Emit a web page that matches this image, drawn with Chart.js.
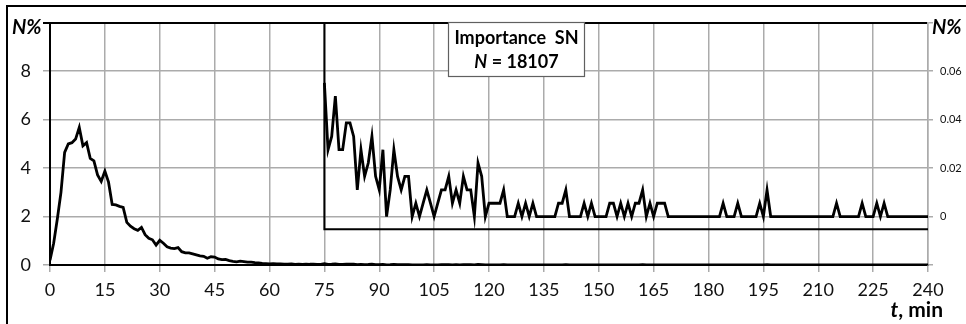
<!DOCTYPE html>
<html>
<head>
<meta charset="utf-8">
<script src="https://cdn.jsdelivr.net/npm/chart.js@4"></script>
<style>
  html, body { margin: 0; padding: 0; background: #fff; }
  #wrap { position: relative; width: 966px; height: 324px; overflow: hidden; }
  #frame { position: absolute; left: 6px; top: 5px; width: 1000px; height: 400px;
           border-left: 2px solid #000; border-top: 2px solid #000; }
  #chart { position: absolute; left: 0; top: 0; }
</style>
</head>
<body>
<div id="wrap">
  <div id="frame"></div>
  <canvas id="chart" width="966" height="324"></canvas>
</div>
<script>
// N% per minute, t = 0..74 (main curve, left axis)
var mainStartMinute = 0;
var mainValues = [
  0.2, 0.9, 1.9, 3.0, 4.65, 5.0, 5.05, 5.2, 5.68, 4.92,
  5.05, 4.4, 4.3, 3.72, 3.45, 3.88, 3.42, 2.5, 2.48, 2.42,
  2.38, 1.76, 1.6, 1.5, 1.43, 1.55, 1.25, 1.1, 1.04, 0.82,
  1.02, 0.9, 0.75, 0.7, 0.68, 0.72, 0.55, 0.5, 0.5, 0.46,
  0.42, 0.38, 0.36, 0.28, 0.34, 0.33, 0.25, 0.22, 0.23, 0.18,
  0.15, 0.13, 0.16, 0.14, 0.12, 0.12, 0.1, 0.09, 0.07, 0.06,
  0.05, 0.06, 0.05, 0.05, 0.04, 0.04, 0.05, 0.03, 0.04, 0.03,
  0.04, 0.03, 0.03, 0.02, 0.03
];

// N% per minute, t = 75..240 (tail, shown enlarged on the right axis)
var insetStartMinute = 75;
var insetValues = [
  0.0552, 0.0276, 0.0331, 0.0497, 0.0276, 0.0276, 0.0387, 0.0387, 0.0331, 0.011,
  0.0276, 0.0166, 0.0221, 0.0331, 0.0166, 0.011, 0.0276, 0, 0.011, 0.0276,
  0.0166, 0.011, 0.0166, 0.0166, 0, 0.0055, 0, 0.0055, 0.011, 0.0055,
  0, 0.0055, 0.011, 0.011, 0.0166, 0.0055, 0.011, 0.0055, 0.0166, 0.011,
  0.011, 0, 0.0221, 0.0166, 0, 0.0055, 0.0055, 0.0055, 0.0055, 0.011,
  0, 0, 0, 0.0055, 0, 0.0055, 0, 0.0055, 0, 0,
  0, 0, 0, 0, 0.0055, 0.0055, 0.011, 0, 0, 0,
  0, 0.0055, 0, 0.0055, 0, 0, 0, 0, 0.0055, 0.0055,
  0, 0.0055, 0, 0.0055, 0, 0.0055, 0.0055, 0.011, 0, 0.0055,
  0, 0.0055, 0.0055, 0.0055, 0, 0, 0, 0, 0, 0,
  0, 0, 0, 0, 0, 0, 0, 0, 0, 0.0055,
  0, 0, 0, 0.0055, 0, 0, 0, 0, 0, 0.0055,
  0, 0.011, 0, 0, 0, 0, 0, 0, 0, 0,
  0, 0, 0, 0, 0, 0, 0, 0, 0, 0,
  0.0055, 0, 0, 0, 0, 0, 0, 0.0055, 0, 0,
  0, 0.0055, 0, 0.0055, 0, 0, 0, 0, 0, 0,
  0, 0, 0, 0, 0, 0
];

var xMin = 0, xMax = 240, xStep = 15;
var yMin = 0, yMax = 10, yStep = 2;
var y2Min = -0.02, y2Max = 0.08, y2Step = 0.02;
var insetFloor = -0.0052;

var boxTitle = "Importance  SN";
var boxCount = "18107";

var FONT = "Lato, 'Open Sans', sans-serif";
var GRID = "#ababab";

function toPoints(start, values) {
  return values.map(function (v, i) {
    return { x: start + i, y: v };
  });
}

var mainPoints = toPoints(mainStartMinute, mainValues).concat(
  toPoints(insetStartMinute, insetValues)
);
var insetPoints = toPoints(insetStartMinute, insetValues);

var overlayPlugin = {
  id: "overlay",
  beforeDatasetsDraw: function (chart) {
    var ctx = chart.ctx;
    var s = chart.scales;
    var x0 = s.x.getPixelForValue(insetStartMinute);
    var x1 = s.x.getPixelForValue(xMax);
    var yb = s.y2.getPixelForValue(insetFloor);
    ctx.save();
    ctx.strokeStyle = "#000";
    ctx.lineWidth = 2;
    ctx.beginPath();
    ctx.moveTo(x0, chart.chartArea.top);
    ctx.lineTo(x0, yb);
    ctx.lineTo(x1, yb);
    ctx.stroke();
    ctx.restore();
  },
  afterDraw: function (chart) {
    var ctx = chart.ctx;
    ctx.save();
    ctx.fillStyle = "#000";
    ctx.textBaseline = "alphabetic";

    // axis names
    ctx.font = "italic bold 20px " + FONT;
    ctx.textAlign = "left";
    ctx.fillText("N%", 12, 34);
    ctx.fillText("N%", 932, 34);

    ctx.font = "italic bold 21px " + FONT;
    var tW = ctx.measureText("t").width;
    ctx.font = "bold 21px " + FONT;
    var restW = ctx.measureText(", min").width;
    var tx = 943 - tW - restW;
    ctx.font = "italic bold 21px " + FONT;
    ctx.fillText("t", tx, 317);
    ctx.font = "bold 21px " + FONT;
    ctx.fillText(", min", tx + tW, 317);

    // label box
    ctx.fillStyle = "#fff";
    ctx.fillRect(448, 22, 137, 55);
    ctx.strokeStyle = "#606060";
    ctx.lineWidth = 1.2;
    ctx.strokeRect(448.5, 22.5, 136, 54);

    ctx.fillStyle = "#000";
    ctx.textAlign = "center";
    ctx.font = "bold 18px " + FONT;
    ctx.fillText(boxTitle, 516.5, 44);

    ctx.textAlign = "left";
    ctx.font = "italic bold 18px " + FONT;
    var nW = ctx.measureText("N").width;
    ctx.font = "bold 18px " + FONT;
    var eqW = ctx.measureText(" = " + boxCount).width;
    var nx = 516.5 - (nW + eqW) / 2;
    ctx.font = "italic bold 18px " + FONT;
    ctx.fillText("N", nx, 68);
    ctx.font = "bold 18px " + FONT;
    ctx.fillText(" = " + boxCount, nx + nW, 68);
    ctx.restore();
  }
};

new Chart(document.getElementById("chart"), {
  type: "line",
  data: {
    datasets: [
      {
        label: "N%",
        data: mainPoints,
        xAxisID: "x",
        yAxisID: "y",
        borderColor: "#000",
        borderWidth: 2.8,
        pointRadius: 0,
        tension: 0,
        fill: false
      },
      {
        label: "N% (t >= 75)",
        data: insetPoints,
        xAxisID: "x",
        yAxisID: "y2",
        borderColor: "#000",
        borderWidth: 2.8,
        pointRadius: 0,
        tension: 0,
        fill: false
      }
    ]
  },
  options: {
    responsive: false,
    animation: false,
    layout: { padding: { top: 19, left: 0, right: 0, bottom: 0 } },
    plugins: {
      legend: { display: false },
      tooltip: { enabled: false }
    },
    scales: {
      x: {
        type: "linear",
        min: xMin,
        max: xMax,
        ticks: {
          stepSize: xStep,
          autoSkip: false,
          maxRotation: 0,
          color: "#111",
          padding: 7,
          font: { family: FONT, size: 18 }
        },
        grid: { color: GRID, lineWidth: 1.5, tickLength: 7 },
        border: { color: "#000", width: 2 },
        afterFit: function (s) { s.height = 59; }
      },
      y: {
        position: "left",
        min: yMin,
        max: yMax,
        ticks: {
          stepSize: yStep,
          color: "#111",
          padding: 12,
          font: { family: FONT, size: 18 },
          callback: function (v) { return v === yMax ? "" : v; }
        },
        grid: {
          color: function (c) { return c.tick && c.tick.value === yMax ? "#000" : GRID; },
          lineWidth: function (c) { return c.tick && c.tick.value === yMax ? 2 : 1.5; },
          tickLength: 7
        },
        border: { color: "#000", width: 2 },
        afterFit: function (s) { s.width = 50; }
      },
      y2: {
        position: "right",
        min: y2Min,
        max: y2Max,
        ticks: {
          stepSize: y2Step,
          color: "#111",
          padding: 7,
          font: { family: FONT, size: 11 },
          callback: function (v) {
            if (v < -0.001 || v > 0.07) return "";
            return Math.abs(v) < 1e-9 ? "0" : v.toFixed(2);
          }
        },
        grid: { drawOnChartArea: false, color: GRID, lineWidth: 1.5, tickLength: 5 },
        border: { color: GRID, width: 1.5 },
        afterFit: function (s) { s.width = 38; }
      }
    }
  },
  plugins: [overlayPlugin]
});
</script>
</body>
</html>
